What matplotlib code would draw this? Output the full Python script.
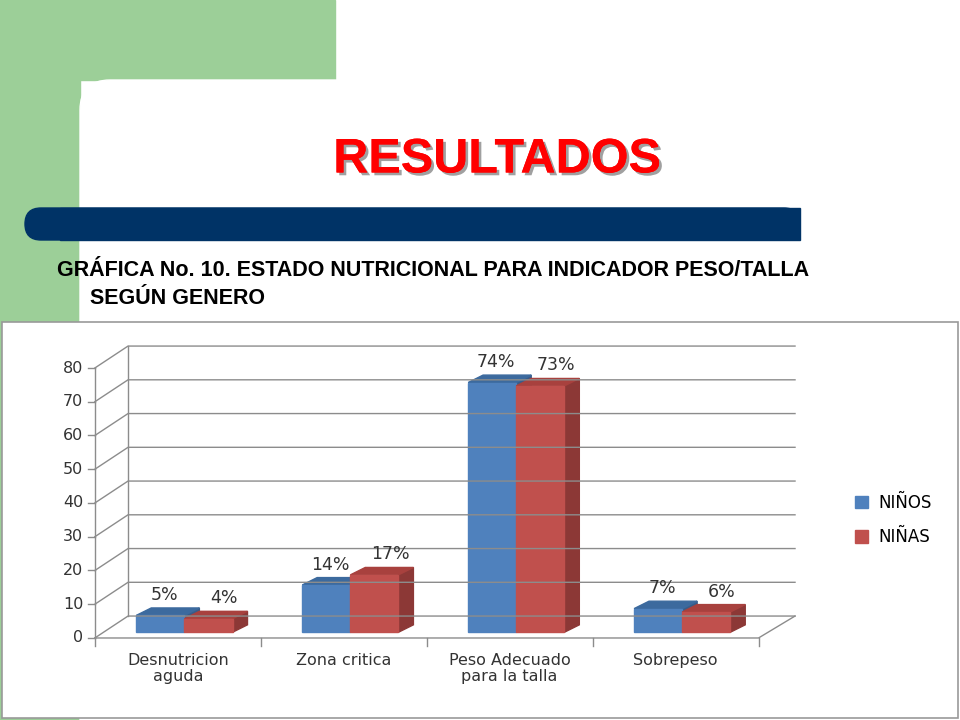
import matplotlib
matplotlib.use("Agg")
import matplotlib.pyplot as plt
from matplotlib.patches import Rectangle, FancyBboxPatch, Polygon, Patch
import matplotlib.patheffects as pe

categories = ["Desnutricion\naguda", "Zona critica", "Peso Adecuado\npara la talla", "Sobrepeso"]
ninos = [5, 14, 74, 7]
ninas = [4, 17, 73, 6]
yticks = [0, 10, 20, 30, 40, 50, 60, 70, 80]

BLUE, BLUE_SIDE, BLUE_TOP = "#4F81BD", "#385D8A", "#3C6A9E"
RED, RED_SIDE, RED_TOP = "#C0504D", "#8C3836", "#A8413E"
GREEN = "#9CCF98"
NAVY = "#003366"

fig = plt.figure(figsize=(9.6, 7.2), dpi=100)

# slide background in pixel coordinates
bg = fig.add_axes([0, 0, 1, 1])
bg.set_xlim(0, 960)
bg.set_ylim(720, 0)
bg.axis("off")
bg.add_patch(Rectangle((0, 0), 335, 80, color=GREEN))
bg.add_patch(Rectangle((0, 0), 80, 720, color=GREEN))
bg.add_patch(FancyBboxPatch((80, 80), 1000, 1000, boxstyle="round,pad=0,rounding_size=30", color="white"))
bg.add_patch(FancyBboxPatch((25, 208), 775, 32, boxstyle="round,pad=0,rounding_size=16", color=NAVY))
bg.add_patch(Rectangle((60, 208), 740, 32, color=NAVY))
bg.text(497, 160, "RESULTADOS", color="#FF0000", fontsize=35, fontweight="bold",
        family="Liberation Sans", ha="center", va="center",
        path_effects=[pe.withSimplePatchShadow(offset=(2, -2), shadow_rgbFace="#888888", alpha=0.8), pe.Normal()])
bg.text(57, 270, "GRÁFICA No. 10. ESTADO NUTRICIONAL PARA INDICADOR PESO/TALLA",
        fontsize=15.5, fontweight="bold", family="Liberation Sans", va="center")
bg.text(90, 298, "SEGÚN GENERO", fontsize=15.5, fontweight="bold", family="Liberation Sans", va="center")
bg.add_patch(Rectangle((2, 322), 956, 396, facecolor="white", edgecolor="#999999", lw=1.2))

# chart area: x in category units (166 px), y in value units (3.375 px)
ax = fig.add_axes([60 / 960, 70 / 720, 740 / 960, 320 / 720])
ax.set_xlim(-0.21, 4.25)
ax.set_ylim(-3.56, 91.26)
ax.axis("off")

DX, DY = 0.2, 6.5   # back wall depth
gc = "#8C8C8C"
for v in yticks:
    ax.plot([0, DX, 4.22], [v, v + DY, v + DY], color=gc, lw=1)
    ax.plot([-0.04, 0], [v, v], color=gc, lw=1)
    ax.text(-0.07, v, str(v), ha="right", va="center", fontsize=11.5, color="#333333")
ax.plot([0, 0], [0, 80], color=gc, lw=1)
ax.plot([DX, DX], [DY, 80 + DY], color=gc, lw=1)
ax.plot([0, 4.0, 4.22], [0, 0, DY], color=gc, lw=1)
for i in range(5):
    ax.plot([i, i], [0, -2.5], color=gc, lw=1, clip_on=False)
for i, c in enumerate(categories):
    ax.text(i + 0.5, -4.5, c, ha="center", va="top", fontsize=11.5, color="#333333",
            linespacing=1.1, clip_on=False)

ox, oy = 0.06, 1.7      # bar placement in depth
bdx, bdy = 0.09, 2.2    # bar depth
w = 0.29

def bar3d(x0, h, front, side, top):
    x0 += ox
    y0 = oy
    ax.add_patch(Polygon([(x0 + w, y0), (x0 + w + bdx, y0 + bdy), (x0 + w + bdx, y0 + h + bdy), (x0 + w, y0 + h)], color=side))
    ax.add_patch(Polygon([(x0, y0 + h), (x0 + w, y0 + h), (x0 + w + bdx, y0 + h + bdy), (x0 + bdx, y0 + h + bdy)], color=top))
    ax.add_patch(Rectangle((x0, y0), w, h, color=front))
    return x0 + w / 2 + bdx / 2, y0 + h + bdy

for i in range(len(categories)):
    xb, yb = bar3d(i + 0.19, ninos[i], BLUE, BLUE_SIDE, BLUE_TOP)
    ax.text(xb - 0.02, yb + 1.2, f"{ninos[i]}%", ha="center", va="bottom", fontsize=12.5, color="#333333")
    xr, yr = bar3d(i + 0.19 + w, ninas[i], RED, RED_SIDE, RED_TOP)
    ax.text(xr + 0.05, yr + 1.2, f"{ninas[i]}%", ha="center", va="bottom", fontsize=12.5, color="#333333")

fig.legend(handles=[Patch(color=BLUE, label="NIÑOS"), Patch(color=RED, label="NIÑAS")],
           loc="center left", bbox_to_anchor=(840 / 960, 1 - 520 / 720), frameon=False,
           fontsize=12, handlelength=0.8, handleheight=0.8, labelspacing=1.0, handletextpad=0.6)

fig.savefig("out.png", dpi=100)
